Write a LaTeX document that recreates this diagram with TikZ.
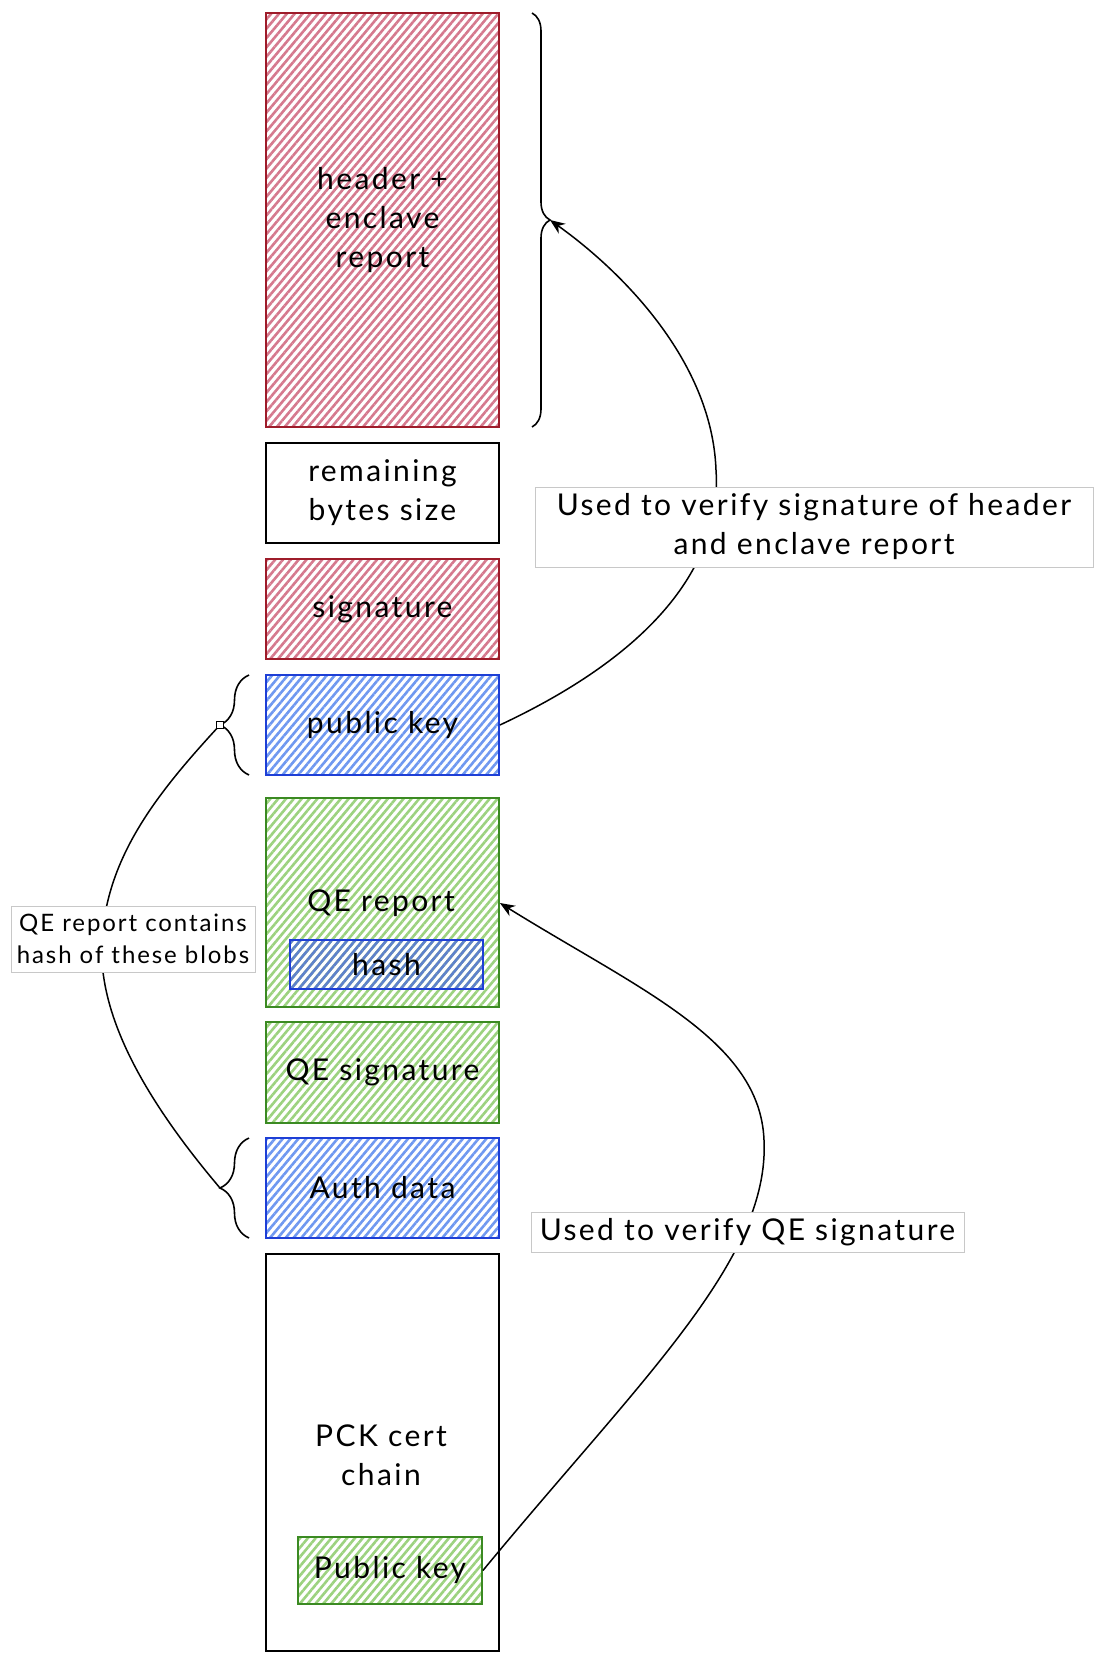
\documentclass[tikz,border=0pt]{standalone}
\usepackage{fontspec}
\setmainfont{Lato}[LetterSpace=8]
\usetikzlibrary{patterns.meta,decorations.pathreplacing,arrows.meta}

\definecolor{redline}{HTML}{9E1C2A}
\definecolor{redhatch}{HTML}{D5798E}
\definecolor{blueline}{HTML}{1E3FD6}
\definecolor{bluehatch}{HTML}{6F98F0}
\definecolor{greenline}{HTML}{3B8A22}
\definecolor{greenhatch}{HTML}{9CD27F}
\definecolor{tagline}{HTML}{C8C8C8}

\tikzset{
  blocktext/.style={font=\fontsize{30}{39}\selectfont, align=center, text=black},
  block/.style={rectangle, draw, line width=1.8pt, inner sep=0pt, blocktext,
    minimum width=233pt},
  hatched/.style={pattern={Lines[angle=50,distance=6pt,line width=2.6pt]}},
  redblock/.style={block, draw=redline, hatched, pattern color=redhatch},
  blueblock/.style={block, draw=blueline, hatched, pattern color=bluehatch},
  greenblock/.style={block, draw=greenline, hatched, pattern color=greenhatch},
  plainblock/.style={block, draw=black, line width=1.4pt, fill=white},
  tag/.style={rectangle, draw=tagline, line width=0.9pt, fill=white, inner sep=0pt,
    align=center, font=\fontsize{30}{39}\selectfont},
  smalltag/.style={tag, font=\fontsize{24}{32}\selectfont},
  curly/.style={decorate, line width=1.6pt, draw=black},
  link/.style={draw=black, line width=1.5pt},
  tipmark/.style={rectangle, draw=black, line width=1.2pt, fill=white,
    minimum size=7pt, inner sep=0pt},
}

\begin{document}
\begin{tikzpicture}[x=1pt,y=-1pt]
\useasboundingbox (0,0) rectangle (1093,1653);

% the blob layout, top to bottom
\node[redblock, minimum height=414pt] (hdr) at (382.5,220) {header +\\enclave\\report};
\node[plainblock, minimum height=100pt] (rem) at (382.5,493) {remaining\\bytes size};
\node[redblock, minimum height=100pt] (sig) at (382.5,609) {signature};
\node[blueblock, minimum height=100pt] (pk) at (382.5,725) {public key};
\node[greenblock, minimum height=209pt] (qer) at (382.5,902.5) {};
\node[blocktext] (qetxt) at (381,903) {QE report};
\node[block, draw=blueline, hatched, pattern color=bluehatch!85!black, line width=1.6pt,
      minimum width=193pt, minimum height=49pt] (hash) at (386.5,964.5) {hash};
\node[greenblock, minimum height=101pt] (qes) at (382.5,1072.5) {QE signature};
\node[blueblock, minimum height=100pt] (auth) at (382.5,1188) {Auth data};
\node[plainblock, minimum height=397pt] (pck) at (382.5,1452.5) {};
\node[blocktext] (pcktxt) at (381,1455) {PCK cert\\chain};
\node[greenblock, minimum width=184pt, minimum height=67pt] (pkey) at (390,1570.5) {Public key};

% braces marking the covered blobs
\coordinate (hb1) at (532,13);
\coordinate (hb2) at (532,427);
\coordinate (hbtip) at (550,220);
\draw[curly, decoration={brace, amplitude=18pt}] (hb1) -- (hb2);

\coordinate (pb1) at (249,775);
\coordinate (pb2) at (249,675);
\coordinate (pbtip) at (220,725);
\draw[curly, decoration={brace, amplitude=29pt}] (pb1) -- (pb2);

\coordinate (ab1) at (249,1238);
\coordinate (ab2) at (249,1138);
\coordinate (abtip) at (220,1188);
\draw[curly, decoration={brace, amplitude=29pt}] (ab1) -- (ab2);

% connectors
\draw[link, -{Stealth[length=15pt,width=12pt]}] (pk.east)
  .. controls (660,650) and (722,560) .. (716,470)
  .. controls (712,360) and (620,270) .. (hbtip);

\draw[link] (abtip)
  .. controls (120,1070) and (95,990) .. (103,928)
  .. controls (112,850) and (160,790) .. (pbtip);
\node[tipmark] (pkmark) at (pbtip) {};

\draw[link, -{Stealth[length=15pt,width=12pt]}] (pkey.east)
  .. controls (640,1380) and (770,1260) .. (764,1140)
  .. controls (760,1040) and (640,990) .. (qer.east |- qetxt);

% annotations
\node[tag, minimum width=558pt, minimum height=80pt] (t1) at (814,527)
  {Used to verify signature of header\\and enclave report};
\node[smalltag, minimum width=244pt, minimum height=66pt] (t2) at (133,939)
  {QE report contains\\hash of these blobs};
\node[tag, minimum width=433pt, minimum height=40pt] (t3) at (747.5,1232)
  {Used to verify QE signature};
\end{tikzpicture}
\end{document}
